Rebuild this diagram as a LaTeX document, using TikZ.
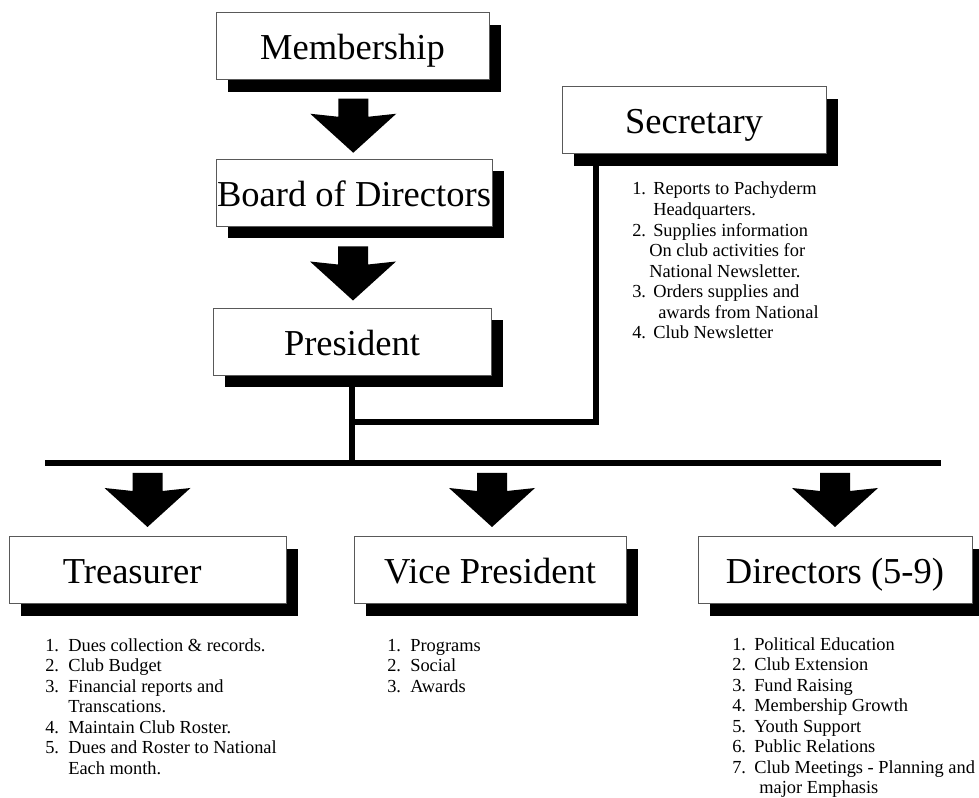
\documentclass[tikz,border=0pt]{standalone}
\usepackage{fontspec}
\setmainfont{Liberation Serif}
\usetikzlibrary{shadows,calc}

\tikzset{
  post/.style={draw=black!65, line width=0.75pt, fill=white, inner sep=0pt,
    minimum height=50.25pt, text height=25pt, text depth=4.8pt,
    font=\fontsize{27.4}{30}\selectfont,
    drop shadow={shadow xshift=9pt, shadow yshift=-9pt, fill=black, opacity=1}},
  duties/.style={anchor=base west, inner sep=0pt, font=\fontsize{13.8}{15.4}\selectfont},
  bar/.style={line width=4.5pt},
  fatarrow/.pic={\fill (-15,-27) -- (15,-27) -- (15,-9) -- (43,-12) -- (0,27) -- (-43,-12) -- (-15,-9) -- cycle;}
}

\begin{document}
\begin{tikzpicture}[x=0.75pt,y=-0.75pt]
      \fill[white] (0,0) rectangle (979,798);
      \useasboundingbox (0,0) rectangle (979,798);

      \node[post, minimum width=204.75pt] (member) at (352.5,46.5) {Membership};
      \node[post, minimum width=207pt] (board) at (354,193) {Board of Directors};
      \node[post, minimum width=208.5pt] (pres) at (352,342) {President};
      \node[post, minimum width=198pt] (secr) at (694,120.5) {Secretary};
      \node[post, minimum width=207.75pt] (treas) at (147.5,570.5) {Treasurer\hspace*{23pt}};
      \node[post, minimum width=204pt] (vp) at (490,570.5) {Vice President};
      \node[post, minimum width=205.5pt] (dirs) at (835,570.5) {Directors (5-9)};

      \coordinate (busL) at (45,463.5);
      \coordinate (busR) at (941,463.5);

      \draw[bar] (busL) -- (busR);
      \draw[bar] (pres.south) -- (pres.south |- busL);
      \draw[bar] ($(secr.south west)+(34,0)$) |- ($(pres.south)+(0,46)$);

      \pic at ($(member.south)!0.5!(board.north)+(0,6)$) {fatarrow};
      \pic at ($(board.south)!0.5!(pres.north)+(0,6)$) {fatarrow};
      \pic at ($(treas.north)!0.5!(treas.north |- busL)$) {fatarrow};
      \pic at ($(vp.north)!0.5!(vp.north |- busL)+(2,0)$) {fatarrow};
      \pic at ($(dirs.north)!0.5!(dirs.north |- busL)$) {fatarrow};

      \node[duties] (secrlist) at (632,195) {\begin{tabular}[t]{@{}p{15.75pt}@{}l@{}}
        1. & Reports to Pachyderm\\
           & Headquarters.\\
        2. & Supplies information\\
           & \hspace*{-3pt}On club activities for\\
           & \hspace*{-3pt}National Newsletter.\\
        3. & Orders supplies and\\
           & \hspace*{3.75pt}awards from National\\
        4. & Club Newsletter
      \end{tabular}};

      \node[duties] (treaslist) at (45,651) {\begin{tabular}[t]{@{}p{17.25pt}@{}l@{}}
        1. & Dues collection \& records.\\
        2. & Club Budget\\
        3. & Financial reports and\\
           & Transcations.\\
        4. & Maintain Club Roster.\\
        5. & Dues and Roster to National\\
           & Each month.
      \end{tabular}};

      \node[duties] (vplist) at (387,651) {\begin{tabular}[t]{@{}p{17.25pt}@{}l@{}}
        1. & Programs\\
        2. & Social\\
        3. & Awards
      \end{tabular}};

      \node[duties] (dirslist) at (732,650) {\begin{tabular}[t]{@{}p{16.5pt}@{}l@{}}
        1. & Political Education\\
        2. & Club Extension\\
        3. & Fund Raising\\
        4. & Membership Growth\\
        5. & Youth Support\\
        6. & Public Relations\\
        7. & Club Meetings - Planning and\\
           & \hspace*{3.75pt}major Emphasis
      \end{tabular}};
\end{tikzpicture}
\end{document}
